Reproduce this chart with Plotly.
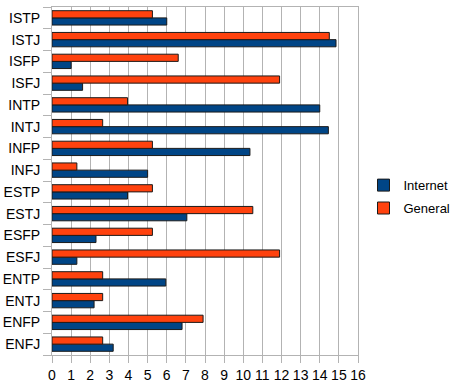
import plotly.graph_objects as go

types = ["ISTP", "ISTJ", "ISFP", "ISFJ", "INTP", "INTJ", "INFP", "INFJ",
         "ESTP", "ESTJ", "ESFP", "ESFJ", "ENTP", "ENTJ", "ENFP", "ENFJ"]
internet = [6.0, 14.85, 1.0, 1.6, 14.0, 14.45, 10.35, 5.0,
            3.95, 7.05, 2.3, 1.3, 5.95, 2.2, 6.8, 3.2]
general = [5.25, 14.5, 6.6, 11.9, 3.95, 2.65, 5.25, 1.3,
            5.25, 10.5, 5.25, 11.9, 2.65, 2.65, 7.9, 2.65]
x_ticks = list(range(0, 17))

fig = go.Figure()
fig.add_trace(go.Bar(y=types, x=internet, name="Internet", orientation="h",
                     legendgroup="internet",
                     marker=dict(color="#004586", line=dict(color="#1a1a1a", width=1))))
fig.add_trace(go.Bar(y=types, x=general, name="General", orientation="h",
                     legendgroup="general",
                     marker=dict(color="#FF420E", line=dict(color="#1a1a1a", width=1))))

fig.update_layout(
    width=456, height=391,
    margin=dict(l=52, r=98, t=7, b=36, autoexpand=False),
    barmode="group", bargap=0.34, bargroupgap=0,
    plot_bgcolor="white", paper_bgcolor="white",
    font=dict(family="Liberation Sans, Arial, sans-serif", size=14, color="#000000"),
    legend=dict(x=1.018, y=0.455, xanchor="left", yanchor="middle",
                font=dict(size=13), traceorder="grouped", tracegroupgap=3,
                itemwidth=30, bgcolor="rgba(0,0,0,0)"),
    showlegend=True,
)
fig.update_xaxes(range=[0, 16], tickvals=x_ticks, ticktext=[str(v) for v in x_ticks],
                 showgrid=True, gridcolor="#b3b3b3", gridwidth=1,
                 showline=True, linecolor="#b3b3b3", mirror=True,
                 ticks="outside", ticklen=7, tickcolor="#b3b3b3",
                 zeroline=False, tickfont=dict(size=14), automargin=False)
fig.update_yaxes(categoryorder="array", categoryarray=types[::-1],
                 showgrid=False, showline=True, linecolor="#b3b3b3", mirror=True,
                 ticks="outside", tickson="boundaries", ticklen=8, tickcolor="#b3b3b3",
                 tickfont=dict(size=14), ticklabelstandoff=8, automargin=False)

fig.write_html("out.html", config={"displayModeBar": False},
               post_script="document.body.style.margin='0';")
